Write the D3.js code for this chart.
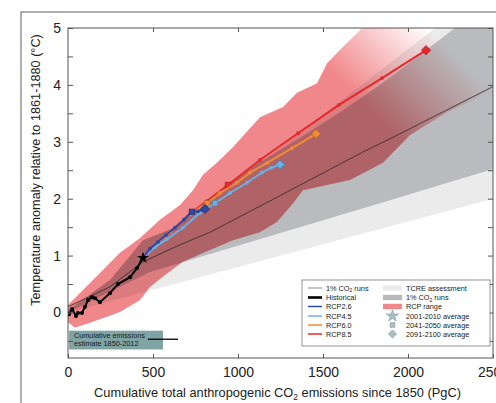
<!DOCTYPE html>
<html lang="en">
<head>
<meta charset="UTF-8">
<title>Warming vs cumulative CO2 emissions</title>
<script src="https://d3js.org/d3.v7.min.js"></script>
<style>
    body { margin: 0; background: #fff; }
    svg { display: block; font-family: Arial, "Liberation Sans", sans-serif; }
    .axis text { font-size: 14px; fill: #222; }
    .axis line { stroke: #555; }
    .legend text { font-size: 7.3px; fill: #222; }
    .note text { font-size: 7.3px; fill: #1a1a1a; }
</style>
</head>
<body>
<svg id="chart" width="496" height="403"></svg>
<script>
// cumulative emissions (PgC) and temperature anomaly (degC)
const histE = [6, 24, 47, 59, 82, 100, 118, 141, 159, 188, 247, 294, 365, 406, 441];
const histT = [-0.03, 0.06, -0.06, -0.01, -0.01, 0.10, 0.22, 0.27, 0.25, 0.18, 0.34, 0.50, 0.62, 0.78, 0.96];

const rcp26E = [441, 482, 529, 576, 629, 682, 729, 765, 794, 806];
const rcp26T = [0.96, 1.12, 1.24, 1.36, 1.49, 1.63, 1.77, 1.78, 1.80, 1.82];
const rcp45E = [441, 512, 582, 676, 776, 865, 953, 1053, 1141, 1194, 1247];
const rcp45T = [0.96, 1.15, 1.29, 1.49, 1.75, 1.92, 2.10, 2.28, 2.46, 2.54, 2.60];
const rcp60E = [441, 494, 600, 718, 818, 894, 994, 1071, 1171, 1318, 1459];
const rcp60T = [0.96, 1.13, 1.41, 1.73, 1.92, 2.10, 2.28, 2.46, 2.63, 2.89, 3.14];
const rcp85E = [441, 494, 600, 718, 818, 941, 1129, 1353, 1594, 1847, 2106];
const rcp85T = [0.96, 1.13, 1.41, 1.74, 1.96, 2.24, 2.68, 3.15, 3.65, 4.12, 4.61];
const squareIdx = [6, 5, 4, 5]; // 2041-2050 average, per RCP

const onePctE = [0, 247, 441, 659, 835, 1053, 1265, 1404, 1735, 1912, 2500];
const onePctT = [0.10, 0.45, 0.89, 1.19, 1.41, 1.75, 2.08, 2.30, 2.82, 3.08, 3.97];

// 1% CO2 runs range
const pctHiE = [0, 247, 441, 618, 818, 1071, 1365, 1600, 1835, 2071, 2276, 2500];
const pctHiT = [0.04, 0.57, 1.27, 1.48, 1.98, 2.54, 3.07, 3.52, 4.0, 4.53, 5.0, 5.45];
const pctLoE = [0, 482, 1229, 1835, 2500];
const pctLoT = [0, 0.71, 1.38, 1.92, 2.52];

// TCRE assessment wedge
const tcreHiE = [0, 2160, 2500];
const tcreHiT = [0, 5.0, 5.8];
const tcreLoE = [0, 2500];
const tcreLoT = [0, 2.0];

// RCP range
const rcpHiE = [0, 147, 306, 424, 541, 659, 735, 794, 876, 971, 1129, 1265, 1347, 1465, 1524, 1618, 1718, 1800, 2500];
const rcpHiT = [0.13, 0.57, 1.05, 1.31, 1.63, 1.89, 2.15, 2.42, 2.63, 2.91, 3.43, 3.61, 3.86, 4.03, 4.38, 4.67, 4.96, 5.3, 6.0];
const rcpLoE = [0, 41, 159, 306, 424, 482, 571, 676, 835, 971, 1129, 1229, 1324, 1382, 1659, 1853, 2012, 2229, 2500];
const rcpLoT = [-0.17, -0.27, -0.15, 0.01, 0.22, 0.45, 0.66, 0.89, 1.10, 1.27, 1.41, 1.59, 1.92, 2.15, 2.33, 2.63, 3.12, 3.52, 3.9];

const xTicks = [0, 500, 1000, 1500, 2000, 2500];
const estimateRange = [470, 647];

const svg = d3.select("#chart");
const plotL = 68, plotR = 493, plotT = 28, plotB = 358;

const x = d3.scaleLinear().domain([0, 2500]).range([plotL, plotR]);
const y = d3.scaleLinear().domain([-0.8, 5]).range([plotB, plotT]);

const pts = (es, ts) => es.map((e, i) => [e, ts[i]]);
const line = d3.line().x(d => x(d[0])).y(d => y(d[1]));
const band = (hiE, hiT, loE, loT) => line(pts(hiE, hiT).concat(pts(loE, loT).reverse())) + "Z";

// outer frame of the figure panel
svg.append("rect")
    .attr("x", 21).attr("y", 12)
    .attr("width", 520).attr("height", 430)
    .attr("fill", "none").attr("stroke", "#7a7a7a").attr("stroke-width", 1.2);

const defs = svg.append("defs");
defs.append("clipPath").attr("id", "plotClip")
  .append("rect")
    .attr("x", plotL).attr("y", plotT)
    .attr("width", plotR - plotL).attr("height", plotB - plotT);

const fade = defs.append("linearGradient")
    .attr("id", "rcpFade")
    .attr("gradientUnits", "userSpaceOnUse")
    .attr("x1", x(1894)).attr("y1", y(3.21))
    .attr("x2", x(2306)).attr("y2", y(4.44));
fade.append("stop").attr("offset", 0).attr("stop-color", "#f0878a").attr("stop-opacity", 1);
fade.append("stop").attr("offset", 1).attr("stop-color", "#f0878a").attr("stop-opacity", 0);

const plot = svg.append("g").attr("clip-path", "url(#plotClip)");

plot.append("path")
    .attr("d", band(tcreHiE, tcreHiT, tcreLoE, tcreLoT))
    .attr("fill", "#ebebeb");

plot.append("path")
    .attr("d", band(pctHiE, pctHiT, pctLoE, pctLoT))
    .attr("fill", "#babbbe");

plot.append("path")
    .attr("d", band(rcpHiE, rcpHiT, rcpLoE, rcpLoT))
    .attr("fill", "url(#rcpFade)")
    .style("mix-blend-mode", "multiply");

plot.append("path")
    .attr("d", line(pts(onePctE, onePctT)))
    .attr("fill", "none").attr("stroke", "#2a2a2a").attr("stroke-width", 0.8);

// cumulative emissions estimate box
const note = svg.append("g").attr("class", "note");
note.append("rect")
    .attr("x", x(6)).attr("y", y(-0.32))
    .attr("width", x(559) - x(6)).attr("height", y(-0.65) - y(-0.32))
    .attr("fill", "#7fa4a3");
note.append("text").attr("x", x(35)).attr("y", y(-0.44)).text("Cumulative emissions");
note.append("text").attr("x", x(35)).attr("y", y(-0.59)).text("estimate 1850-2012");
note.append("line")
    .attr("x1", x(estimateRange[0])).attr("x2", x(estimateRange[1]))
    .attr("y1", y(-0.47)).attr("y2", y(-0.47))
    .attr("stroke", "#000").attr("stroke-width", 1.3);

const series = [
    {e: rcp26E, t: rcp26T, color: "#2f48a3", dark: "#1c2d6e"},
    {e: rcp45E, t: rcp45T, color: "#6cb0e3", dark: "#3f7fb0"},
    {e: rcp60E, t: rcp60T, color: "#f28a36", dark: "#b8601c"},
    {e: rcp85E, t: rcp85T, color: "#e8282a", dark: "#a01818"}
];

// diamond = square turned by 45 degrees
const diamond = (cx, cy) => `translate(${cx},${cy}) rotate(45)`;

// draw 8.5 first so the lower scenarios sit on top
series.slice().reverse().forEach(s => {
    const p = pts(s.e, s.t);
    plot.append("path")
        .attr("d", line(p))
        .attr("fill", "none").attr("stroke", s.color).attr("stroke-width", 2);
    plot.selectAll(null).data(p.slice(1, -1)).enter().append("circle")
        .attr("cx", d => x(d[0])).attr("cy", d => y(d[1]))
        .attr("r", 1.9).attr("fill", s.color);
    const sq = p[squareIdx[series.indexOf(s)]];
    plot.append("path")
        .attr("d", d3.symbol(d3.symbolSquare, 30)())
        .attr("transform", `translate(${x(sq[0])},${y(sq[1])})`)
        .attr("fill", s.color).attr("stroke", s.dark).attr("stroke-width", 0.6);
    const end = p[p.length - 1];
    plot.append("path")
        .attr("d", d3.symbol(d3.symbolSquare, 42)())
        .attr("transform", diamond(x(end[0]), y(end[1])))
        .attr("fill", s.color).attr("stroke", s.dark).attr("stroke-width", 0.7);
});

const hist = pts(histE, histT);
plot.append("path")
    .attr("d", line(hist))
    .attr("fill", "none").attr("stroke", "#000").attr("stroke-width", 2);
plot.selectAll(null).data(hist.slice(0, -1)).enter().append("circle")
    .attr("cx", d => x(d[0])).attr("cy", d => y(d[1]))
    .attr("r", 2).attr("fill", "#000");
const star = hist[hist.length - 1];
plot.append("path")
    .attr("d", d3.symbol(d3.symbolStar, 45)())
    .attr("transform", `translate(${x(star[0])},${y(star[1])})`)
    .attr("fill", "#000");

// axes, ticks point inward
const yTicks = d3.range(-0.5, 5.01, 0.5);
svg.append("g").attr("class", "axis")
    .attr("transform", `translate(${plotL},0)`)
    .call(d3.axisLeft(y).tickValues(yTicks).tickSize(-5).tickPadding(7)
        .tickFormat(d => Number.isInteger(d) ? d : ""))
    .call(g => g.select(".domain").remove());
svg.append("g").attr("class", "axis")
    .attr("transform", `translate(${plotR},0)`)
    .call(d3.axisRight(y).tickValues(yTicks).tickSize(-5).tickFormat(""))
    .call(g => g.select(".domain").remove());
svg.append("g").attr("class", "axis")
    .attr("transform", `translate(0,${plotB})`)
    .call(d3.axisBottom(x).tickValues(xTicks).tickSize(-4).tickPadding(9).tickFormat(d3.format("d")))
    .call(g => g.select(".domain").remove());
svg.append("g").attr("class", "axis")
    .attr("transform", `translate(0,${plotT})`)
    .call(d3.axisTop(x).tickValues(xTicks.slice(1, -1)).tickSize(-4).tickFormat(""))
    .call(g => g.select(".domain").remove());

svg.append("rect")
    .attr("x", plotL).attr("y", plotT)
    .attr("width", plotR - plotL).attr("height", plotB - plotT)
    .attr("fill", "none").attr("stroke", "#555").attr("stroke-width", 1);

const xTitle = svg.append("text")
    .attr("x", 277.5).attr("y", 397)
    .attr("text-anchor", "middle")
    .attr("font-size", 12.8).attr("fill", "#222");
xTitle.append("tspan").text("Cumulative total anthropogenic CO");
xTitle.append("tspan").attr("font-size", 8.5).attr("dy", 3).text("2");
xTitle.append("tspan").attr("dy", -3).text(" emissions since 1850 (PgC)");

svg.append("text")
    .attr("transform", "translate(40,170) rotate(-90)")
    .attr("text-anchor", "middle")
    .attr("font-size", 12.7).attr("fill", "#222")
    .text("Temperature anomaly relative to 1861-1880 (°C)");

// legend
const legend = svg.append("g").attr("class", "legend");
legend.append("rect")
    .attr("x", 302).attr("y", 280).attr("width", 188).attr("height", 66)
    .attr("fill", "#fff").attr("stroke", "#7a7a7a").attr("stroke-width", 0.8);

const rowY = [288, 297.5, 306.5, 316, 325, 334];
const leftItems = [
    {label: "1% CO", sub: true, color: "#8a8a8a", w: 1},
    {label: "Historical", color: "#000", w: 2.6},
    {label: "RCP2.6", color: series[0].color, w: 1.5},
    {label: "RCP4.5", color: series[1].color, w: 1.5},
    {label: "RCP6.0", color: series[2].color, w: 1.5},
    {label: "RCP8.5", color: series[3].color, w: 1.5}
];
leftItems.forEach((d, i) => {
    legend.append("line")
        .attr("x1", 308).attr("x2", 322).attr("y1", rowY[i]).attr("y2", rowY[i])
        .attr("stroke", d.color).attr("stroke-width", d.w);
    const t = legend.append("text").attr("x", 326).attr("y", rowY[i] + 2.6).text(d.label);
    if (d.sub) {
        t.append("tspan").attr("font-size", 5).attr("dy", 1.8).text("2");
        t.append("tspan").attr("dy", -1.8).text(" runs");
    }
});

const swatches = [
    {label: "TCRE assessment", fill: "#ebebeb"},
    {label: "1% CO", sub: true, fill: "#b8b9bc"},
    {label: "RCP range", fill: "#f0878a"}
];
swatches.forEach((d, i) => {
    legend.append("rect")
        .attr("x", 383).attr("y", rowY[i] - 2.7).attr("width", 19).attr("height", 5.4)
        .attr("fill", d.fill);
    const t = legend.append("text").attr("x", 406).attr("y", rowY[i] + 2.6).text(d.label);
    if (d.sub) {
        t.append("tspan").attr("font-size", 5).attr("dy", 1.8).text("2");
        t.append("tspan").attr("dy", -1.8).text(" runs");
    }
});

const markers = [
    {label: "2001-2010 average", type: d3.symbolStar, size: 45, rot: 0},
    {label: "2041-2050 average", type: d3.symbolSquare, size: 22, rot: 0},
    {label: "2091-2100 average", type: d3.symbolSquare, size: 34, rot: 45}
];
markers.forEach((d, i) => {
    legend.append("path")
        .attr("d", d3.symbol(d.type, d.size)())
        .attr("transform", `translate(392.5,${rowY[i + 3]}) rotate(${d.rot})`)
        .attr("fill", "#a9bfc2").attr("stroke", "#80999e").attr("stroke-width", 0.6);
    legend.append("text").attr("x", 406).attr("y", rowY[i + 3] + 2.6).text(d.label);
});
</script>
</body>
</html>
